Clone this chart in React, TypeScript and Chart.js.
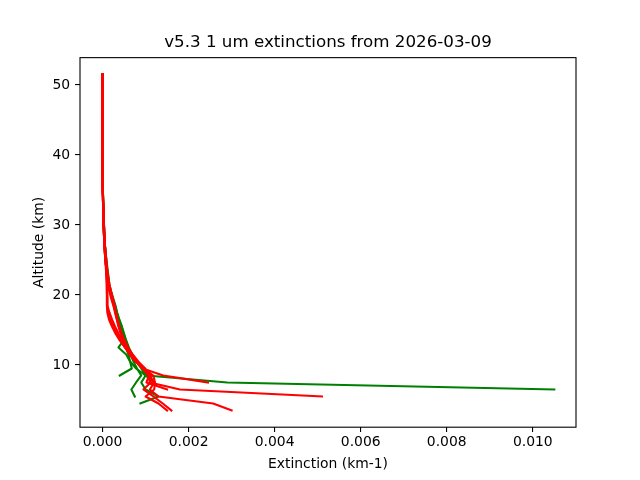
import React, { useEffect, useRef } from "react";
import { Chart, registerables } from "chart.js";

Chart.register(...registerables);

const titleText = "v5.3 1 um extinctions from 2026-03-09";
const xAxisLabel = "Extinction (km-1)";
const yAxisLabel = "Altitude (km)";

const xTicks = [0, 0.002, 0.004, 0.006, 0.008, 0.01];
const yTicks = [10, 20, 30, 40, 50];

// altitude levels (km), top to bottom
const altitudes = [51.5, 45.5, 40.5, 35.5, 30.5, 27.5, 25.5, 23.5, 21.5, 20.5, 19.5, 18.5, 17.5, 16.5, 15.5, 14.5, 13.5, 12.5, 11.5, 10.5, 9.5, 8.5, 7.5, 6.5, 5.5, 4.5, 3.5];

// red profiles (extinction, km-1)
const red1 = [0, 0.000001, 0.000003, 0.000008, 0.00002, 0.00004, 0.00006, 0.00008, 0.0001, 0.0001, 0.0001, 0.0001, 0.00011, 0.00015, 0.00022, 0.0003, 0.0004, 0.00052, 0.00064, 0.00078, 0.00094, 0.00106, 0.0011, 0.0018, 0.0051];
const red2 = [0, 0, 0.000004, 0.00001, 0.00002, 0.00005, 0.00007, 0.0001, 0.00014, 0.00018, 0.00022, 0.00026, 0.0003, 0.00034, 0.00038, 0.00043, 0.0005, 0.00058, 0.00068, 0.0008, 0.00093, 0.00141, 0.00245];
const red3 = [0, 0.000001, 0.000002, 0.000007, 0.00002, 0.00004, 0.00006, 0.00009, 0.00011, 0.00011, 0.00011, 0.00012, 0.00016, 0.00022, 0.00029, 0.00037, 0.00046, 0.00056, 0.00068, 0.0008, 0.00098, 0.0011, 0.0012, 0.0011, 0.0013, 0.00257, 0.003];
const red4 = [0, 0, 0.000003, 0.00001, 0.00003, 0.00005, 0.00008, 0.00011, 0.00016, 0.0002, 0.00024, 0.00028, 0.00031, 0.00035, 0.00039, 0.00044, 0.00051, 0.00059, 0.00069, 0.00081, 0.00092, 0.0011, 0.00112, 0.00095, 0.00118, 0.0014, 0.0016];
const red5 = [0, 0.000001, 0.000002, 0.000006, 0.00002, 0.00004, 0.00006, 0.00009, 0.0001, 0.0001, 0.00011, 0.00011, 0.00013, 0.00018, 0.00025, 0.00033, 0.00042, 0.00052, 0.00063, 0.00076, 0.00096, 0.00118, 0.00122, 0.0012, 0.001, 0.0013, 0.0015];
const red6 = [0, 0, 0.000003, 0.000009, 0.00003, 0.00005, 0.00007, 0.0001, 0.00015, 0.00019, 0.00023, 0.00027, 0.0003, 0.00034, 0.00038, 0.00043, 0.0005, 0.00059, 0.0007, 0.00083, 0.00099, 0.00108, 0.00102, 0.0015];
const red7 = [0, 0, 0.000002, 0.000008, 0.00002, 0.00004, 0.00006, 0.00009, 0.00012, 0.00016, 0.0002, 0.00025, 0.00029, 0.00033, 0.00037, 0.00042, 0.00048, 0.00057, 0.00067, 0.0008, 0.00094, 0.00112];

// green profiles (extinction, km-1)
const green1 = [0, 0.000001, 0.000004, 0.00001, 0.00003, 0.00005, 0.00007, 0.0001, 0.00014, 0.00018, 0.00022, 0.00027, 0.00032, 0.00037, 0.00042, 0.00047, 0.00052, 0.0006, 0.00068, 0.0008, 0.00095, 0.00103, 0.0029, 0.0105];
const green2 = [0, 0, 0.000003, 0.00001, 0.00003, 0.00005, 0.00008, 0.00011, 0.00015, 0.00019, 0.00024, 0.00029, 0.00033, 0.00037, 0.00041, 0.00046, 0.0005, 0.00055, 0.0006, 0.00064, 0.00068, 0.0004];
const green3 = [0, 0.000001, 0.000003, 0.00001, 0.00002, 0.00005, 0.00007, 0.0001, 0.00014, 0.00019, 0.00023, 0.00028, 0.00033, 0.00038, 0.00044, 0.00049, 0.00054, 0.0006, 0.00065, 0.00072, 0.0008, 0.0009, 0.00078, 0.00067, 0.00075];
const green4 = [0, 0, 0.000004, 0.00001, 0.00003, 0.00005, 0.00008, 0.00012, 0.00016, 0.0002, 0.00025, 0.0003, 0.00034, 0.00039, 0.00045, 0.0005, 0.00055, 0.00061, 0.00069, 0.00078, 0.0009, 0.001, 0.0009, 0.001, 0.0013, 0.00088];
const green5 = [0, 0.000001, 0.000003, 0.000009, 0.00002, 0.00004, 0.00006, 0.00009, 0.00013, 0.00017, 0.00022, 0.00027, 0.00031, 0.00035, 0.0004, 0.00045, 0.00049, 0.00037, 0.00055, 0.00064, 0.00078, 0.001, 0.0012];

const redProfiles = [red1, red2, red3, red4, red5, red6, red7];
const greenProfiles = [green1, green2, green3, green4, green5];

const RED = "#ff0000";
const GREEN = "#008000";
const FONT = "'DejaVu Sans', sans-serif";

const toPoints = (vals: number[]) => vals.map((v, i) => ({ x: v, y: altitudes[i] }));

const framePlugin = {
  id: "frame",
  afterDraw(chart: any) {
    const { ctx, chartArea } = chart;
    ctx.save();
    ctx.strokeStyle = "#000";
    ctx.lineWidth = 1.1;
    ctx.strokeRect(chartArea.left, chartArea.top, chartArea.right - chartArea.left, chartArea.bottom - chartArea.top);
    ctx.restore();
  },
};

export default function App() {
  const ref = useRef<HTMLCanvasElement | null>(null);

  useEffect(() => {
    if (!ref.current) return;
    const mk = (vals: number[], color: string) => ({
      data: toPoints(vals),
      borderColor: color,
      backgroundColor: color,
      borderWidth: 2.1,
      borderCapStyle: "square" as const,
      borderJoinStyle: "round" as const,
      pointRadius: 0,
      showLine: true,
      fill: false,
      tension: 0,
    });
    const datasets = [
      ...redProfiles.map((p) => mk(p, RED)),
      ...greenProfiles.map((p) => mk(p, GREEN)),
    ];
    const chart = new Chart(ref.current, {
      type: "scatter",
      data: { datasets },
      plugins: [framePlugin],
      options: {
        animation: false,
        responsive: false,
        devicePixelRatio: 1,
        layout: { padding: { left: 16, right: 0, top: 0, bottom: 0 } },
        plugins: {
          legend: { display: false },
          tooltip: { enabled: false },
          title: {
            display: true,
            text: titleText,
            color: "#000",
            font: { family: FONT, size: 16.7, weight: "normal", lineHeight: 1.2 },
            padding: { top: 33, bottom: 4.6 },
          },
        },
        scales: {
          x: {
            type: "linear",
            min: -0.000524,
            max: 0.011004,
            afterFit: (s: any) => { s.height = 52.8; },
            afterBuildTicks: (s: any) => { s.ticks = xTicks.map((v) => ({ value: v })); },
            ticks: {
              color: "#000",
              font: { family: FONT, size: 13.9 },
              padding: 2,
              maxRotation: 0,
              callback: (v: any) => Number(v).toFixed(3),
            },
            grid: { display: true, drawOnChartArea: false, drawTicks: true, tickLength: 4.9, color: "#000", lineWidth: 1.1 },
            border: { display: false },
            title: {
              display: true,
              text: xAxisLabel,
              color: "#000",
              font: { family: FONT, size: 13.9, lineHeight: 1.2 },
              padding: { top: 0, bottom: 7.7 },
            },
          },
          y: {
            type: "linear",
            min: 1.11,
            max: 53.91,
            afterFit: (s: any) => { s.width = 64; },
            afterBuildTicks: (s: any) => { s.ticks = yTicks.map((v) => ({ value: v })); },
            ticks: {
              color: "#000",
              font: { family: FONT, size: 13.9 },
              padding: 4.9,
            },
            grid: { display: true, drawOnChartArea: false, drawTicks: true, tickLength: 4.9, color: "#000", lineWidth: 1.1 },
            border: { display: false },
            title: {
              display: true,
              text: yAxisLabel,
              color: "#000",
              font: { family: FONT, size: 13.9, lineHeight: 1.2 },
              padding: { top: 14.7, bottom: 0 },
            },
          },
          yRight: {
            type: "linear",
            position: "right",
            min: 1.11,
            max: 53.91,
            afterFit: (s: any) => { s.width = 64; },
            ticks: { display: false },
            grid: { display: false },
            border: { display: false },
          },
        },
      },
    } as any);
    return () => chart.destroy();
  }, []);

  return (
    <div style={{ position: "fixed", left: 0, top: 0, width: 640, height: 480, background: "#fff" }}>
      <canvas ref={ref} width={640} height={480} style={{ width: 640, height: 480 }} />
    </div>
  );
}
